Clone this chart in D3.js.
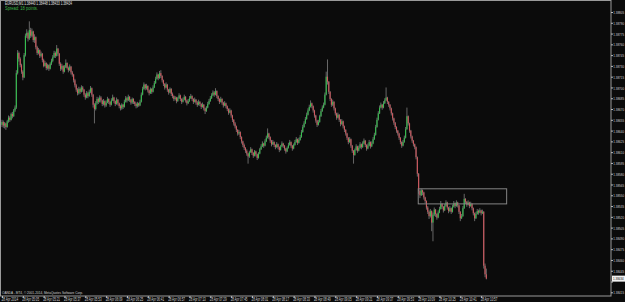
<!DOCTYPE html>
<html><head><meta charset="utf-8">
<script src="https://cdn.jsdelivr.net/npm/d3@7"></script>
<style>html,body{margin:0;padding:0;background:#0b0b0b;}svg{display:block;}</style>
</head><body>
<svg id="c" width="625" height="302"></svg>
<script>
const symbol = "EURUSD,M1";
const spreadText = "Spread: 18 points.";
const copyright = "OANDA - MT4, \u00A9 2001-2014, MetaQuotes Software Corp.";
const timeLabels = ["28 Apr 2014","28 Apr 05:05","28 Apr 05:21","28 Apr 05:37","28 Apr 05:53","28 Apr 06:09","28 Apr 06:25","28 Apr 06:41","28 Apr 06:57","28 Apr 07:13","28 Apr 07:29","28 Apr 07:45","28 Apr 08:01","28 Apr 08:17","28 Apr 08:33","28 Apr 08:49","28 Apr 09:05","28 Apr 09:21","28 Apr 09:37","28 Apr 09:53","28 Apr 10:09","28 Apr 10:25","28 Apr 10:41","28 Apr 10:57"];
const priceTicks = [1.38805,1.38790,1.38775,1.38760,1.38745,1.38730,1.38715,1.38700,1.38685,1.38670,1.38655,1.38640,1.38625,1.38610,1.38595,1.38580,1.38565,1.38550,1.38535,1.38520,1.38505,1.38490,1.38475,1.38460,1.38445,1.38430,1.38415];
const zoneBars = [319.7, 387.6];
const zonePrices = [1.38559, 1.38538];

const opens = [
1.38648,1.38652,1.38647,1.38650,1.38645,1.38653,1.38658,1.38655,1.38663,1.38660,
1.38668,1.38672,1.38720,1.38748,1.38740,1.38731,1.38722,1.38714,1.38745,1.38772,
1.38776,1.38768,1.38780,1.38772,1.38778,1.38766,1.38770,1.38756,1.38748,1.38752,
1.38744,1.38747,1.38738,1.38730,1.38734,1.38727,1.38731,1.38726,1.38733,1.38737,
1.38742,1.38748,1.38744,1.38754,1.38747,1.38733,1.38726,1.38730,1.38722,1.38728,
1.38734,1.38727,1.38724,1.38729,1.38721,1.38718,1.38710,1.38703,1.38697,1.38692,
1.38698,1.38694,1.38700,1.38697,1.38690,1.38686,1.38692,1.38688,1.38694,1.38699,
1.38690,1.38676,1.38670,1.38678,1.38684,1.38680,1.38686,1.38682,1.38677,1.38681,
1.38675,1.38679,1.38684,1.38680,1.38676,1.38682,1.38686,1.38681,1.38677,1.38683,
1.38678,1.38674,1.38671,1.38676,1.38673,1.38680,1.38685,1.38682,1.38687,1.38683,
1.38679,1.38684,1.38680,1.38677,1.38674,1.38678,1.38675,1.38680,1.38690,1.38698,
1.38704,1.38699,1.38702,1.38696,1.38692,1.38698,1.38694,1.38700,1.38706,1.38712,
1.38718,1.38713,1.38720,1.38716,1.38710,1.38705,1.38700,1.38704,1.38697,1.38693,
1.38698,1.38691,1.38688,1.38684,1.38686,1.38681,1.38685,1.38689,1.38684,1.38680,
1.38683,1.38687,1.38682,1.38678,1.38681,1.38685,1.38688,1.38684,1.38680,1.38683,
1.38679,1.38676,1.38680,1.38677,1.38673,1.38676,1.38671,1.38667,1.38672,1.38677,
1.38681,1.38685,1.38689,1.38693,1.38690,1.38695,1.38688,1.38684,1.38680,1.38684,
1.38679,1.38675,1.38678,1.38674,1.38670,1.38665,1.38668,1.38661,1.38655,1.38650,
1.38646,1.38641,1.38636,1.38638,1.38631,1.38625,1.38620,1.38616,1.38612,1.38608,
1.38604,1.38610,1.38614,1.38609,1.38605,1.38611,1.38607,1.38602,1.38608,1.38614,
1.38618,1.38622,1.38619,1.38625,1.38630,1.38636,1.38631,1.38626,1.38621,1.38624,
1.38620,1.38617,1.38621,1.38617,1.38613,1.38618,1.38622,1.38619,1.38615,1.38611,
1.38616,1.38620,1.38624,1.38619,1.38615,1.38620,1.38624,1.38628,1.38623,1.38627,
1.38631,1.38638,1.38645,1.38650,1.38656,1.38662,1.38668,1.38673,1.38678,1.38674,
1.38668,1.38661,1.38654,1.38648,1.38652,1.38660,1.38667,1.38672,1.38676,1.38690,
1.38715,1.38708,1.38694,1.38684,1.38676,1.38680,1.38671,1.38664,1.38658,1.38662,
1.38655,1.38649,1.38653,1.38646,1.38641,1.38636,1.38630,1.38624,1.38628,1.38619,
1.38612,1.38606,1.38613,1.38618,1.38612,1.38616,1.38621,1.38617,1.38622,1.38626,
1.38620,1.38615,1.38619,1.38624,1.38618,1.38622,1.38628,1.38634,1.38645,1.38655,
1.38664,1.38672,1.38676,1.38672,1.38678,1.38682,1.38686,1.38680,1.38676,1.38671,
1.38664,1.38657,1.38651,1.38645,1.38640,1.38636,1.38630,1.38624,1.38619,1.38624,
1.38630,1.38642,1.38660,1.38650,1.38640,1.38632,1.38626,1.38621,1.38617,1.38603,
1.38580,1.38556,1.38550,1.38557,1.38554,1.38547,1.38542,1.38533,1.38527,1.38521,
1.38528,1.38512,1.38523,1.38530,1.38524,1.38519,1.38526,1.38531,1.38538,1.38534,
1.38529,1.38535,1.38540,1.38533,1.38528,1.38532,1.38527,1.38534,1.38539,1.38535,
1.38540,1.38536,1.38527,1.38518,1.38521,1.38532,1.38545,1.38541,1.38537,1.38540,
1.38535,1.38538,1.38532,1.38525,1.38518,1.38524,1.38528,1.38526,1.38529,1.38525,
1.38527,1.38452,1.38440];

const highs = [
1.38655,1.38654,1.38652,1.38651,1.38655,1.38661,1.38660,1.38665,1.38666,1.38670,
1.38675,1.38724,1.38752,1.38750,1.38742,1.38733,1.38724,1.38748,1.38775,1.38781,
1.38778,1.38792,1.38783,1.38782,1.38779,1.38774,1.38771,1.38758,1.38755,1.38753,
1.38750,1.38748,1.38740,1.38737,1.38735,1.38733,1.38732,1.38735,1.38740,1.38745,
1.38751,1.38750,1.38759,1.38755,1.38748,1.38735,1.38733,1.38731,1.38731,1.38739,
1.38735,1.38729,1.38732,1.38730,1.38723,1.38719,1.38712,1.38705,1.38699,1.38701,
1.38700,1.38703,1.38702,1.38698,1.38692,1.38695,1.38694,1.38697,1.38702,1.38700,
1.38691,1.38678,1.38681,1.38687,1.38686,1.38689,1.38688,1.38683,1.38684,1.38682,
1.38682,1.38687,1.38685,1.38681,1.38685,1.38690,1.38687,1.38682,1.38686,1.38684,
1.38679,1.38676,1.38678,1.38677,1.38683,1.38688,1.38687,1.38690,1.38688,1.38684,
1.38686,1.38685,1.38681,1.38679,1.38680,1.38679,1.38683,1.38693,1.38701,1.38707,
1.38705,1.38705,1.38703,1.38697,1.38700,1.38699,1.38703,1.38709,1.38715,1.38721,
1.38719,1.38723,1.38724,1.38717,1.38711,1.38706,1.38707,1.38705,1.38698,1.38700,
1.38699,1.38693,1.38689,1.38688,1.38687,1.38687,1.38692,1.38690,1.38685,1.38686,
1.38690,1.38688,1.38683,1.38684,1.38688,1.38691,1.38689,1.38685,1.38686,1.38684,
1.38681,1.38683,1.38681,1.38678,1.38679,1.38677,1.38672,1.38674,1.38680,1.38684,
1.38688,1.38692,1.38696,1.38695,1.38699,1.38696,1.38689,1.38685,1.38687,1.38685,
1.38680,1.38681,1.38679,1.38675,1.38671,1.38671,1.38669,1.38662,1.38656,1.38652,
1.38647,1.38642,1.38641,1.38639,1.38632,1.38626,1.38622,1.38617,1.38614,1.38609,
1.38612,1.38617,1.38615,1.38610,1.38613,1.38612,1.38608,1.38610,1.38616,1.38621,
1.38625,1.38623,1.38628,1.38633,1.38643,1.38637,1.38632,1.38627,1.38627,1.38625,
1.38621,1.38624,1.38622,1.38618,1.38620,1.38625,1.38623,1.38620,1.38616,1.38618,
1.38623,1.38627,1.38625,1.38620,1.38622,1.38627,1.38631,1.38629,1.38630,1.38634,
1.38641,1.38648,1.38653,1.38659,1.38665,1.38671,1.38676,1.38682,1.38679,1.38675,
1.38669,1.38662,1.38655,1.38655,1.38662,1.38670,1.38675,1.38679,1.38693,1.38722,
1.38739,1.38709,1.38695,1.38685,1.38683,1.38681,1.38672,1.38665,1.38665,1.38663,
1.38656,1.38656,1.38654,1.38647,1.38642,1.38637,1.38631,1.38631,1.38629,1.38620,
1.38613,1.38615,1.38621,1.38619,1.38619,1.38624,1.38622,1.38625,1.38629,1.38627,
1.38621,1.38622,1.38627,1.38625,1.38625,1.38631,1.38637,1.38648,1.38658,1.38667,
1.38675,1.38679,1.38677,1.38681,1.38685,1.38700,1.38687,1.38681,1.38677,1.38672,
1.38665,1.38658,1.38652,1.38646,1.38641,1.38637,1.38631,1.38625,1.38627,1.38633,
1.38645,1.38672,1.38661,1.38651,1.38641,1.38633,1.38627,1.38622,1.38618,1.38604,
1.38581,1.38558,1.38559,1.38558,1.38555,1.38548,1.38543,1.38535,1.38529,1.38531,
1.38529,1.38526,1.38533,1.38531,1.38525,1.38529,1.38534,1.38542,1.38539,1.38535,
1.38538,1.38543,1.38541,1.38534,1.38535,1.38533,1.38537,1.38542,1.38540,1.38543,
1.38541,1.38537,1.38528,1.38524,1.38535,1.38552,1.38546,1.38542,1.38543,1.38541,
1.38541,1.38539,1.38533,1.38526,1.38527,1.38531,1.38530,1.38532,1.38530,1.38530,
1.38528,1.38455,1.38448];

const lows = [
1.38645,1.38644,1.38643,1.38641,1.38644,1.38651,1.38652,1.38654,1.38657,1.38659,
1.38666,1.38670,1.38718,1.38736,1.38728,1.38719,1.38710,1.38713,1.38743,1.38769,
1.38764,1.38766,1.38769,1.38770,1.38763,1.38762,1.38753,1.38745,1.38746,1.38741,
1.38742,1.38735,1.38728,1.38729,1.38724,1.38725,1.38723,1.38725,1.38731,1.38735,
1.38741,1.38741,1.38743,1.38744,1.38730,1.38723,1.38724,1.38719,1.38721,1.38727,
1.38725,1.38721,1.38723,1.38718,1.38715,1.38707,1.38700,1.38694,1.38689,1.38690,
1.38691,1.38693,1.38694,1.38687,1.38683,1.38685,1.38685,1.38687,1.38692,1.38687,
1.38672,1.38650,1.38668,1.38676,1.38677,1.38679,1.38679,1.38674,1.38675,1.38672,
1.38673,1.38678,1.38677,1.38673,1.38675,1.38681,1.38678,1.38674,1.38676,1.38675,
1.38671,1.38668,1.38669,1.38670,1.38672,1.38679,1.38679,1.38681,1.38680,1.38676,
1.38677,1.38677,1.38674,1.38671,1.38672,1.38673,1.38674,1.38679,1.38689,1.38697,
1.38696,1.38697,1.38693,1.38689,1.38691,1.38691,1.38693,1.38699,1.38705,1.38711,
1.38710,1.38712,1.38713,1.38707,1.38702,1.38697,1.38699,1.38694,1.38690,1.38692,
1.38688,1.38685,1.38681,1.38682,1.38678,1.38680,1.38684,1.38681,1.38677,1.38679,
1.38682,1.38679,1.38675,1.38677,1.38680,1.38684,1.38681,1.38677,1.38679,1.38676,
1.38673,1.38675,1.38674,1.38670,1.38672,1.38668,1.38663,1.38666,1.38671,1.38676,
1.38680,1.38684,1.38688,1.38687,1.38689,1.38685,1.38681,1.38677,1.38679,1.38676,
1.38672,1.38674,1.38671,1.38667,1.38662,1.38664,1.38658,1.38652,1.38647,1.38643,
1.38638,1.38633,1.38634,1.38628,1.38622,1.38617,1.38613,1.38609,1.38605,1.38594,
1.38602,1.38609,1.38606,1.38602,1.38604,1.38604,1.38599,1.38601,1.38607,1.38613,
1.38617,1.38616,1.38618,1.38624,1.38629,1.38628,1.38623,1.38618,1.38620,1.38617,
1.38614,1.38616,1.38614,1.38610,1.38612,1.38617,1.38616,1.38612,1.38608,1.38610,
1.38615,1.38619,1.38616,1.38612,1.38614,1.38619,1.38623,1.38620,1.38622,1.38626,
1.38630,1.38637,1.38644,1.38649,1.38655,1.38661,1.38667,1.38672,1.38671,1.38665,
1.38658,1.38651,1.38645,1.38647,1.38651,1.38659,1.38666,1.38671,1.38675,1.38689,
1.38704,1.38691,1.38681,1.38673,1.38674,1.38668,1.38661,1.38655,1.38657,1.38652,
1.38646,1.38648,1.38643,1.38638,1.38633,1.38627,1.38621,1.38623,1.38616,1.38609,
1.38594,1.38605,1.38612,1.38609,1.38611,1.38615,1.38614,1.38616,1.38621,1.38617,
1.38612,1.38614,1.38618,1.38615,1.38617,1.38621,1.38627,1.38633,1.38644,1.38654,
1.38663,1.38671,1.38669,1.38671,1.38677,1.38681,1.38677,1.38673,1.38668,1.38661,
1.38654,1.38648,1.38642,1.38637,1.38633,1.38627,1.38621,1.38616,1.38618,1.38623,
1.38629,1.38641,1.38647,1.38637,1.38629,1.38623,1.38618,1.38614,1.38600,1.38576,
1.38552,1.38546,1.38549,1.38550,1.38544,1.38539,1.38530,1.38524,1.38517,1.38519,
1.38500,1.38486,1.38521,1.38520,1.38516,1.38518,1.38525,1.38530,1.38531,1.38526,
1.38528,1.38534,1.38530,1.38525,1.38527,1.38524,1.38526,1.38533,1.38532,1.38534,
1.38533,1.38524,1.38514,1.38517,1.38520,1.38531,1.38538,1.38534,1.38536,1.38532,
1.38534,1.38529,1.38522,1.38514,1.38517,1.38523,1.38523,1.38525,1.38522,1.38524,
1.38448,1.38436,1.38433];

const closes = [
1.38652,1.38647,1.38650,1.38645,1.38653,1.38658,1.38655,1.38663,1.38660,1.38668,
1.38672,1.38720,1.38748,1.38740,1.38731,1.38722,1.38714,1.38745,1.38772,1.38776,
1.38768,1.38780,1.38772,1.38778,1.38766,1.38770,1.38756,1.38748,1.38752,1.38744,
1.38747,1.38738,1.38730,1.38734,1.38727,1.38731,1.38726,1.38733,1.38737,1.38742,
1.38748,1.38744,1.38754,1.38747,1.38733,1.38726,1.38730,1.38722,1.38728,1.38734,
1.38727,1.38724,1.38729,1.38721,1.38718,1.38710,1.38703,1.38697,1.38692,1.38698,
1.38694,1.38700,1.38697,1.38690,1.38686,1.38692,1.38688,1.38694,1.38699,1.38690,
1.38676,1.38670,1.38678,1.38684,1.38680,1.38686,1.38682,1.38677,1.38681,1.38675,
1.38679,1.38684,1.38680,1.38676,1.38682,1.38686,1.38681,1.38677,1.38683,1.38678,
1.38674,1.38671,1.38676,1.38673,1.38680,1.38685,1.38682,1.38687,1.38683,1.38679,
1.38684,1.38680,1.38677,1.38674,1.38678,1.38675,1.38680,1.38690,1.38698,1.38704,
1.38699,1.38702,1.38696,1.38692,1.38698,1.38694,1.38700,1.38706,1.38712,1.38718,
1.38713,1.38720,1.38716,1.38710,1.38705,1.38700,1.38704,1.38697,1.38693,1.38698,
1.38691,1.38688,1.38684,1.38686,1.38681,1.38685,1.38689,1.38684,1.38680,1.38683,
1.38687,1.38682,1.38678,1.38681,1.38685,1.38688,1.38684,1.38680,1.38683,1.38679,
1.38676,1.38680,1.38677,1.38673,1.38676,1.38671,1.38667,1.38672,1.38677,1.38681,
1.38685,1.38689,1.38693,1.38690,1.38695,1.38688,1.38684,1.38680,1.38684,1.38679,
1.38675,1.38678,1.38674,1.38670,1.38665,1.38668,1.38661,1.38655,1.38650,1.38646,
1.38641,1.38636,1.38638,1.38631,1.38625,1.38620,1.38616,1.38612,1.38608,1.38604,
1.38610,1.38614,1.38609,1.38605,1.38611,1.38607,1.38602,1.38608,1.38614,1.38618,
1.38622,1.38619,1.38625,1.38630,1.38636,1.38631,1.38626,1.38621,1.38624,1.38620,
1.38617,1.38621,1.38617,1.38613,1.38618,1.38622,1.38619,1.38615,1.38611,1.38616,
1.38620,1.38624,1.38619,1.38615,1.38620,1.38624,1.38628,1.38623,1.38627,1.38631,
1.38638,1.38645,1.38650,1.38656,1.38662,1.38668,1.38673,1.38678,1.38674,1.38668,
1.38661,1.38654,1.38648,1.38652,1.38660,1.38667,1.38672,1.38676,1.38690,1.38715,
1.38708,1.38694,1.38684,1.38676,1.38680,1.38671,1.38664,1.38658,1.38662,1.38655,
1.38649,1.38653,1.38646,1.38641,1.38636,1.38630,1.38624,1.38628,1.38619,1.38612,
1.38606,1.38613,1.38618,1.38612,1.38616,1.38621,1.38617,1.38622,1.38626,1.38620,
1.38615,1.38619,1.38624,1.38618,1.38622,1.38628,1.38634,1.38645,1.38655,1.38664,
1.38672,1.38676,1.38672,1.38678,1.38682,1.38686,1.38680,1.38676,1.38671,1.38664,
1.38657,1.38651,1.38645,1.38640,1.38636,1.38630,1.38624,1.38619,1.38624,1.38630,
1.38642,1.38660,1.38650,1.38640,1.38632,1.38626,1.38621,1.38617,1.38603,1.38580,
1.38556,1.38550,1.38557,1.38554,1.38547,1.38542,1.38533,1.38527,1.38521,1.38528,
1.38512,1.38523,1.38530,1.38524,1.38519,1.38526,1.38531,1.38538,1.38534,1.38529,
1.38535,1.38540,1.38533,1.38528,1.38532,1.38527,1.38534,1.38539,1.38535,1.38540,
1.38536,1.38527,1.38518,1.38521,1.38532,1.38545,1.38541,1.38537,1.38540,1.38535,
1.38538,1.38532,1.38525,1.38518,1.38524,1.38528,1.38526,1.38529,1.38525,1.38527,
1.38452,1.38440,1.38434];

const W = 625, H = 302;
const plotRight = 611, plotBottom = 296;
const FONT = "'Liberation Sans', Arial, sans-serif";
const fmt = d3.format(".5f");
const n = closes.length;

const svg = d3.select("#c");
svg.append("rect").attr("width", W).attr("height", H).attr("fill", "#0b0b0b");

const x = d3.scaleLinear().domain([0, n - 1]).range([2, 2 + (n - 1) * 1.302]);
const y = d3.scaleLinear().domain([priceTicks[0], priceTicks[priceTicks.length - 1]]).range([12, 292.3]);

// squeeze a text horizontally to a target width, anchored at its left edge (tx, ty)
function squeeze(sel, tx, ty, target) {
  sel.each(function () {
    const t = d3.select(this);
    t.attr("x", 0).attr("y", 0).attr("text-anchor", "start").attr("textLength", null);
    const len = this.getComputedTextLength() || 1;
    const k = Math.min(1, target / len);
    const px = typeof tx === "function" ? tx.call(this) : tx;
    const py = typeof ty === "function" ? ty.call(this) : ty;
    t.attr("transform", `translate(${px},${py}) scale(${k},1)`);
  });
}

const idx = d3.range(n);

// wicks
svg.append("g").selectAll("line").data(idx).join("line")
  .attr("x1", i => x(i)).attr("x2", i => x(i))
  .attr("y1", i => y(highs[i])).attr("y2", i => y(lows[i]))
  .attr("stroke", "#8f8f8f").attr("stroke-width", 0.7);

// bodies
svg.append("g").selectAll("rect").data(idx).join("rect")
  .attr("x", i => x(i) - 0.55)
  .attr("width", 1.1)
  .attr("y", i => y(Math.max(opens[i], closes[i])))
  .attr("height", i => Math.max(0.8, Math.abs(y(opens[i]) - y(closes[i]))))
  .attr("fill", i => closes[i] >= opens[i] ? "#35c04f" : "#d2585f");

// zone rectangle
svg.append("rect")
  .attr("x", x(zoneBars[0])).attr("width", x(zoneBars[1]) - x(zoneBars[0]))
  .attr("y", y(zonePrices[0])).attr("height", y(zonePrices[1]) - y(zonePrices[0]))
  .attr("fill", "none").attr("stroke", "#858585").attr("stroke-width", 1);

// frame
svg.append("rect").attr("x", 0.5).attr("y", 0.5)
  .attr("width", plotRight - 0.5).attr("height", plotBottom - 0.5)
  .attr("fill", "none").attr("stroke", "#9a9a9a").attr("stroke-width", 1);

const last = n - 1;

// price axis
const yAxis = d3.axisRight(y).tickValues(priceTicks).tickFormat(fmt).tickSize(2).tickPadding(0.5);
const gy = svg.append("g").attr("transform", `translate(${plotRight},0)`).call(yAxis);
gy.select(".domain").remove();
gy.selectAll(".tick line").attr("stroke", "#bbbbbb");
// the label hidden behind the current-price marker
gy.selectAll(".tick").filter(d => Math.abs(y(d) - y(closes[last])) < 5).select("text").remove();
gy.selectAll(".tick text").attr("fill", "#d0d0d0").attr("font-family", FONT).attr("font-size", 4.4)
  .attr("dy", null).call(squeeze, 2.3, 1.6, 10.8);

// time axis
const labelBars = timeLabels.map((d, k) => k * 16);
const xAxis = d3.axisBottom(x).tickValues(labelBars).tickFormat((d, i) => timeLabels[i]).tickSize(2).tickPadding(0);
const gx = svg.append("g").attr("transform", `translate(0,${plotBottom})`).call(xAxis);
gx.select(".domain").remove();
gx.selectAll(".tick line").attr("stroke", "#bbbbbb");
gx.selectAll(".tick text").attr("fill", "#d0d0d0").attr("font-family", FONT).attr("font-size", 4.6)
  .attr("dy", null).call(squeeze, -1, 4.6, 16.8);

// current price marker
const cy = y(closes[last]);
svg.append("rect").attr("x", plotRight + 1).attr("y", cy - 3).attr("width", 13).attr("height", 6).attr("fill", "#f2f2f2");
svg.append("text").text(fmt(closes[last]))
  .attr("fill", "#111").attr("font-family", FONT).attr("font-size", 4.4)
  .call(squeeze, plotRight + 2, cy + 1.6, 10.8);

// title and info
svg.append("text")
  .text(`${symbol} ${fmt(opens[last])} ${fmt(highs[last])} ${fmt(lows[last])} ${fmt(closes[last])}`)
  .attr("fill", "#e0e0e0").attr("font-family", FONT).attr("font-size", 4.6)
  .call(squeeze, 5, 4.6, 67);
svg.append("text").text(spreadText)
  .attr("fill", "#3bb54a").attr("font-family", FONT).attr("font-size", 4.6)
  .call(squeeze, 5, 9.6, 33);
svg.append("text").text(copyright)
  .attr("fill", "#d0d0d0").attr("font-family", FONT).attr("font-size", 4.2)
  .call(squeeze, 2, 294.3, 81);
</script>
</body></html>
